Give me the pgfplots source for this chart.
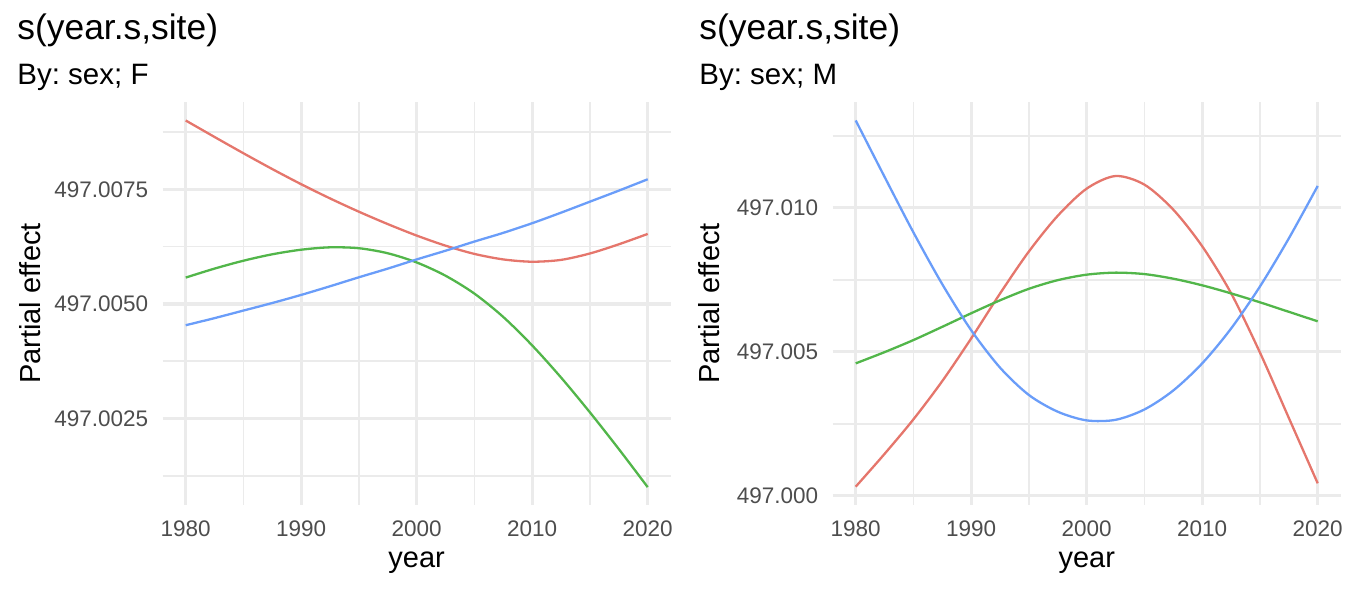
\documentclass[border=0pt]{standalone}
\usepackage{fontspec}
\setmainfont{Liberation Sans}
\usepackage{pgfplots}
\pgfplotsset{compat=1.18}
\usepackage{pgfplotstable}
\frenchspacing

\definecolor{cred}{HTML}{E5766C}
\definecolor{cgreen}{HTML}{52B64A}
\definecolor{cblue}{HTML}{6A9DF9}
\definecolor{gridc}{HTML}{EBEBEB}
\definecolor{ticklab}{HTML}{4D4D4D}

% Partial effect values, stored as (value - 497) * 1000
\pgfplotstableread{
year   red    green  blue
1980   9.000  5.574  4.535
1982.5 8.640  5.770  4.690
1985   8.285  5.942  4.855
1987.5 7.940  6.082  5.020
1990   7.610  6.182  5.196
1992.5 7.300  6.234  5.385
1995   7.010  6.214  5.581
1997.5 6.740  6.104  5.770
2000   6.490  5.904  5.970
2002.5 6.270  5.614  6.160
2005   6.090  5.224  6.360
2007.5 5.970  4.714  6.550
2010   5.920  4.094  6.760
2012.5 5.960  3.394  6.990
2015   6.100  2.634  7.230
2017.5 6.300  1.834  7.470
2020   6.526  1.004  7.718
}\tabF

\pgfplotstableread{
year   red     green  blue
1980   0.313   4.595  13.030
1982.5 1.453   4.985  11.070
1985   2.653   5.405  9.140
1987.5 3.983   5.865  7.340
1990   5.463   6.335  5.745
1992.5 7.023   6.785  4.445
1995   8.483   7.185  3.495
1997.5 9.723   7.485  2.915
2000   10.663  7.675  2.615
2002.5 11.100  7.745  2.635
2005   10.800  7.695  2.995
2007.5 9.930   7.535  3.655
2010   8.660   7.305  4.595
2012.5 7.030   7.025  5.805
2015   4.970   6.715  7.265
2017.5 2.700   6.385  8.935
2020   0.430   6.055  10.755
}\tabM

\pgfplotsset{
  panel/.style={
    scale only axis, width=254.1pt, height=201.3pt, anchor=south west,
    xmin=1978, xmax=2022,
    xtick={1980,1990,2000,2010,2020},
    xticklabels={1980,1990,2000,2010,2020},
    minor xtick={1985,1995,2005,2015},
    grid=both,
    major grid style={draw=gridc, line width=1.6pt},
    minor grid style={draw=gridc, line width=0.8pt},
    axis line style={draw=none},
    tick style={draw=none},
    major tick length=0pt, minor tick length=0pt,
    xticklabel style={font=\fontsize{11.25}{13}\selectfont, text=ticklab, inner sep=0pt, anchor=north, yshift=-7.5pt},
    yticklabel style={font=\fontsize{11.25}{13}\selectfont, text=ticklab, inner sep=0pt, anchor=east, xshift=-7pt},
    xlabel={year}, ylabel={Partial effect},
    label style={font=\fontsize{14.5}{17}\selectfont, inner sep=0pt},
    x label style={at={(axis description cs:0.5,-0.1567)}, anchor=base},
    every axis plot/.append style={line width=1.15pt, smooth, tension=0.5, no markers},
  }
}

\begin{document}
\begin{tikzpicture}
\path[use as bounding box] (0,0) rectangle (680pt,299pt);

\node[anchor=base west, inner sep=0pt, font=\fontsize{17.7}{21}\selectfont] at (8.5pt,279pt) {s(year.s,site)};
\node[anchor=base west, inner sep=0pt, font=\fontsize{14.75}{17}\selectfont] at (8.5pt,256.5pt) {By: sex; F};
\node[anchor=base west, inner sep=0pt, font=\fontsize{17.7}{21}\selectfont] at (349.5pt,279pt) {s(year.s,site)};
\node[anchor=base west, inner sep=0pt, font=\fontsize{14.75}{17}\selectfont] at (349.5pt,256.5pt) {By: sex; M};

\begin{axis}[panel, at={(81.3pt,46.55pt)},
  ymin=0.617, ymax=9.397,
  ytick={2.5,5,7.5}, yticklabels={497.0025,497.0050,497.0075},
  minor ytick={1.25,3.75,6.25,8.75},
  y label style={at={(axis description cs:-0.2412,0.5)}, anchor=base}]
\addplot[cred] table[x=year,y=red] {\tabF};
\addplot[cgreen] table[x=year,y=green] {\tabF};
\addplot[cblue] table[x=year,y=blue] {\tabF};
\end{axis}

\begin{axis}[panel, at={(416.3pt,46.55pt)},
  ymin=-0.319, ymax=13.66,
  ytick={0,5,10}, yticklabels={497.000,497.005,497.010},
  minor ytick={2.5,7.5,12.5},
  y label style={at={(axis description cs:-0.2216,0.5)}, anchor=base}]
\addplot[cred] table[x=year,y=red] {\tabM};
\addplot[cgreen] table[x=year,y=green] {\tabM};
\addplot[cblue] table[x=year,y=blue] {\tabM};
\end{axis}
\end{tikzpicture}
\end{document}
